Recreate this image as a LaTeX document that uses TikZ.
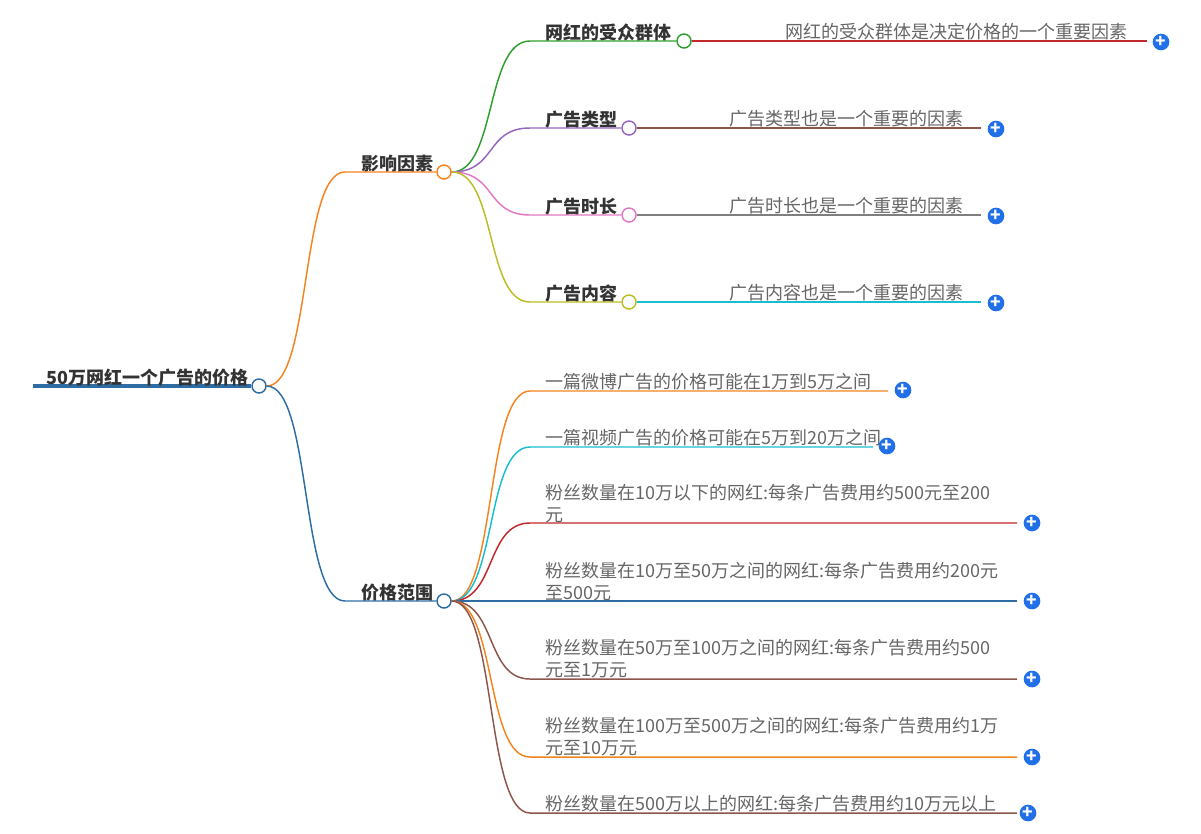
\documentclass[tikz,border=0pt]{standalone}
\usepackage{fontspec}
\setmainfont{Noto Sans CJK SC}
\usetikzlibrary{positioning}
\definecolor{cblue}{HTML}{2E6DA4}
\definecolor{corange}{HTML}{F5841F}
\definecolor{cgreen}{HTML}{2E9E2E}
\definecolor{cpurple}{HTML}{9467BD}
\definecolor{cpink}{HTML}{E377C2}
\definecolor{colive}{HTML}{BCBD22}
\definecolor{cred}{HTML}{C0282C}
\definecolor{cbrown}{HTML}{8C564B}
\definecolor{cgray}{HTML}{7F7F7F}
\definecolor{ccyan}{HTML}{17BECF}
\definecolor{cplus}{HTML}{2170E8}
\definecolor{ctext}{HTML}{333333}
\definecolor{cleaf}{HTML}{666666}
\tikzset{
    dot/.style={circle,draw=#1,fill=white,line width=1.1pt,inner sep=0pt,minimum size=10.5pt},
    plus/.style={circle,fill=cplus,inner sep=0pt,minimum size=12.5pt,label={[text=white,inner sep=0pt,font=\bfseries\fontsize{13}{13}\selectfont]center:+}},
    head/.style={anchor=south east,inner sep=1pt,text=ctext,font=\bfseries\fontsize{13.5}{15}\selectfont},
    leaf/.style={anchor=south west,inner sep=1pt,text=cleaf,align=left,font=\fontsize{13.5}{16.5}\selectfont},
    link/.style={line width=1.1pt}
}
\begin{document}
\begin{tikzpicture}[x=0.75pt,y=-0.75pt]
\useasboundingbox (0,0) rectangle (1201,833);

% root
\node[dot=cblue] (root) at (259,386) {};
\coordinate (rootl) at (33,386);
\draw[cblue,line width=3pt] (rootl) -- (root);
\node[head] (roott) at (250,388) {50万网红一个广告的价格};

% main branches
\node[dot=corange] (infl) at (444,172) {};
\node[dot=cblue] (range) at (444,601) {};
\node[head] (inflt) at (435,174) {影响因素};
\node[head] (ranget) at (435,603) {价格范围};
\draw[link,corange] (root.east) .. controls +(45,0) and +(-45,0) .. (345,172) -- (infl);
\draw[link,cblue] (root.east) .. controls +(45,0) and +(-45,0) .. (345,601) -- (range);

% factors
\node[dot=cgreen] (f1) at (684,41) {};
\node[dot=cpurple] (f2) at (629,128) {};
\node[dot=cpink] (f3) at (629,215) {};
\node[dot=colive] (f4) at (629,302) {};
\node[head,anchor=south west] (f1t) at (544,43) {网红的受众群体};
\node[head,anchor=south west] (f2t) at (544,130) {广告类型};
\node[head,anchor=south west] (f3t) at (544,217) {广告时长};
\node[head,anchor=south west] (f4t) at (544,304) {广告内容};
\draw[link,cgreen] (infl.east) .. controls +(45,0) and +(-45,0) .. (530,41) -- (f1);
\draw[link,cpurple] (infl.east) .. controls +(45,0) and +(-45,0) .. (530,128) -- (f2);
\draw[link,cpink] (infl.east) .. controls +(45,0) and +(-45,0) .. (530,215) -- (f3);
\draw[link,colive] (infl.east) .. controls +(45,0) and +(-45,0) .. (530,302) -- (f4);

\coordinate (e1) at (1147,41);
\coordinate (e2) at (981,128);
\coordinate (e3) at (981,215);
\coordinate (e4) at (981,302);
\draw[link,cred] (f1) -- (e1);
\draw[link,cbrown] (f2) -- (e2);
\draw[link,cgray] (f3) -- (e3);
\draw[link,ccyan] (f4) -- (e4);
\node[leaf] (e1t) at (784,42) {网红的受众群体是决定价格的一个重要因素};
\node[leaf] (e2t) at (728,129) {广告类型也是一个重要的因素};
\node[leaf] (e3t) at (728,216) {广告时长也是一个重要的因素};
\node[leaf] (e4t) at (728,303) {广告内容也是一个重要的因素};
\node[plus] (p1) at (1161,42) {};
\node[plus] (p2) at (996,129) {};
\node[plus] (p3) at (996,216) {};
\node[plus] (p4) at (996,303) {};

% price range
\coordinate (r1) at (888,391);
\coordinate (r2) at (873,447);
\coordinate (r3) at (1017,523);
\coordinate (r4) at (1017,601);
\coordinate (r5) at (1017,679);
\coordinate (r6) at (1017,757);
\coordinate (r7) at (1017,813);
\draw[link,corange] (range.east) .. controls +(45,0) and +(-45,0) .. (530,391) -- (r1);
\draw[link,ccyan] (range.east) .. controls +(45,0) and +(-45,0) .. (530,447) -- (r2);
\draw[link,cred] (range.east) .. controls +(45,0) and +(-45,0) .. (530,523) -- (r3);
\draw[link,cblue] (range.east) -- (r4);
\draw[link,cbrown] (range.east) .. controls +(45,0) and +(-45,0) .. (530,679) -- (r5);
\draw[link,corange] (range.east) .. controls +(45,0) and +(-45,0) .. (530,757) -- (r6);
\draw[link,cbrown] (range.east) .. controls +(45,0) and +(-45,0) .. (530,813) -- (r7);
\node[leaf] (r1t) at (544,392) {一篇微博广告的价格可能在1万到5万之间};
\node[leaf] (r2t) at (544,448) {一篇视频广告的价格可能在5万到20万之间};
\node[leaf] (r3t) at (544,524) {粉丝数量在10万以下的网红:每条广告费用约500元至200\\元};
\node[leaf] (r4t) at (544,602) {粉丝数量在10万至50万之间的网红:每条广告费用约200元\\至500元};
\node[leaf] (r5t) at (544,680) {粉丝数量在50万至100万之间的网红:每条广告费用约500\\元至1万元};
\node[leaf] (r6t) at (544,758) {粉丝数量在100万至500万之间的网红:每条广告费用约1万\\元至10万元};
\node[leaf] (r7t) at (544,814) {粉丝数量在500万以上的网红:每条广告费用约10万元以上};
\node[plus] (q1) at (903,390) {};
\node[plus] (q2) at (887,446) {};
\node[plus] (q3) at (1032,523) {};
\node[plus] (q4) at (1032,601) {};
\node[plus] (q5) at (1032,679) {};
\node[plus] (q6) at (1032,757) {};
\node[plus] (q7) at (1028,813) {};
\end{tikzpicture}
\end{document}
